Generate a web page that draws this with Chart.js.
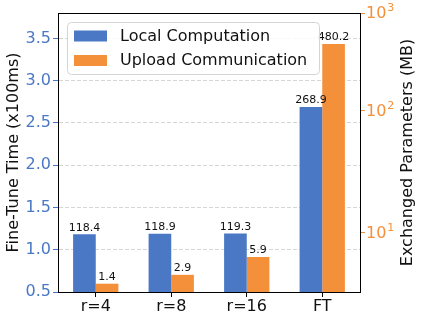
<!DOCTYPE html>
<html>
<head>
<meta charset="utf-8">
<script src="https://cdn.jsdelivr.net/npm/chart.js@4.4.0/dist/chart.umd.min.js"></script>
<style>
  html, body { margin: 0; padding: 0; background: #fff; }
</style>
</head>
<body>
<canvas id="myChart" width="421" height="321"></canvas>
<script>
// data
const groups = ["r=4", "r=8", "r=16", "FT"];
const seriesNames = ["Local Computation", "Upload Communication"];
const localTimeMs = [118.4, 118.9, 119.3, 268.9];
const uploadMB = [1.4, 2.9, 5.9, 480.2];
const timeTicks = [0.5, 1.0, 1.5, 2.0, 2.5, 3.0, 3.5];
const paramTicks = [10, 100, 1000];
const rightTitle = "Exchanged Parameters (MB)";

const BLUE = "#4a78c5";
const ORANGE = "#f5903a";
const FONT = "'DejaVu Sans', sans-serif";

// right axis of the figure: linear up to 10, then log, with uneven decades
class AnchoredLogScale extends Chart.Scale {
  determineDataLimits() {
    const a = this.options.anchors;
    this.min = a[0];
    this.max = a[a.length - 1];
  }
  buildTicks() {
    return paramTicks.map((v) => ({ value: v }));
  }
  getLabelForValue(v) {
    return String(v);
  }
  _frac(v) {
    const a = this.options.anchors;
    const f = this.options.fractions;
    if (v <= a[0]) return f[0];
    for (let i = 1; i < a.length; i++) {
      if (v <= a[i] || i === a.length - 1) {
        const t = a[i - 1] <= 0
          ? (v - a[i - 1]) / (a[i] - a[i - 1])
          : Math.log(v / a[i - 1]) / Math.log(a[i] / a[i - 1]);
        return f[i - 1] + t * (f[i] - f[i - 1]);
      }
    }
    return 1;
  }
  getPixelForValue(v) {
    return this.getPixelForDecimal(this._frac(v));
  }
  getPixelForTick(i) {
    return this.getPixelForValue(this.ticks[i].value);
  }
  getValueForPixel(p) {
    const d = 1 - (p - this.top) / (this.bottom - this.top);
    const a = this.options.anchors;
    const f = this.options.fractions;
    for (let i = 1; i < a.length; i++) {
      if (d <= f[i] || i === a.length - 1) {
        const t = (d - f[i - 1]) / (f[i] - f[i - 1]);
        return a[i - 1] <= 0 ? a[i - 1] + t * (a[i] - a[i - 1]) : a[i - 1] * Math.pow(a[i] / a[i - 1], t);
      }
    }
    return a[a.length - 1];
  }
}
AnchoredLogScale.id = "anchoredLog";
AnchoredLogScale.defaults = {};
Chart.register(AnchoredLogScale);

// bar value labels
const barLabels = {
  id: "barLabels",
  afterDatasetsDraw(chart) {
    const { ctx } = chart;
    ctx.save();
    ctx.font = "11px " + FONT;
    ctx.fillStyle = "#111";
    ctx.textAlign = "center";
    ctx.textBaseline = "bottom";
    chart.data.datasets.forEach((ds, i) => {
      chart.getDatasetMeta(i).data.forEach((bar, j) => {
        ctx.fillText(ds.shownValues[j].toFixed(1), bar.x, bar.y - 1);
      });
    });
    ctx.restore();
  },
};

// top spine + framed legend inside the plot
const frameAndLegend = {
  id: "frameAndLegend",
  afterDatasetsDraw(chart) {
    const { ctx, chartArea } = chart;
    ctx.save();
    ctx.strokeStyle = "#000";
    ctx.lineWidth = 1;
    ctx.beginPath();
    ctx.moveTo(chartArea.left, chartArea.top + 0.5);
    ctx.lineTo(chartArea.right, chartArea.top + 0.5);
    ctx.stroke();

    const x = chartArea.left + 9, y = chartArea.top + 9, w = 252, h = 52;
    ctx.beginPath();
    if (ctx.roundRect) ctx.roundRect(x + 0.5, y + 0.5, w, h, 4);
    else ctx.rect(x + 0.5, y + 0.5, w, h);
    ctx.fillStyle = "rgba(255,255,255,0.85)";
    ctx.fill();
    ctx.strokeStyle = "#d4d4d4";
    ctx.stroke();

    ctx.font = "16px " + FONT;
    ctx.textBaseline = "middle";
    chart.data.datasets.forEach((ds, i) => {
      const cy = y + 13.5 + i * 24.5;
      ctx.fillStyle = ds.backgroundColor;
      ctx.fillRect(x + 7, cy - 5, 33, 11);
      ctx.fillStyle = "#111";
      ctx.fillText(ds.label, x + 53, cy + 1);
    });
    ctx.restore();
  },
};

// right axis: 10^n tick labels and a bottom-to-top title
const rightAxisText = {
  id: "rightAxisText",
  afterDraw(chart) {
    const { ctx, chartArea } = chart;
    const s = chart.scales.y1;
    ctx.save();
    ctx.textAlign = "left";
    ctx.textBaseline = "middle";
    s.ticks.forEach((t) => {
      const py = s.getPixelForValue(t.value);
      const px = s.left + 6;
      ctx.fillStyle = ORANGE;
      ctx.font = "16px " + FONT;
      ctx.fillText("10", px, py + 1);
      const w = ctx.measureText("10").width;
      ctx.font = "11px " + FONT;
      ctx.fillText(String(Math.round(Math.log10(t.value))), px + w + 1, py - 5);
    });
    ctx.translate(407.5, (chartArea.top + chartArea.bottom) / 2);
    ctx.rotate(-Math.PI / 2);
    ctx.textAlign = "center";
    ctx.fillStyle = "#111";
    ctx.font = "16px " + FONT;
    ctx.fillText(rightTitle, 0, 0);
    ctx.restore();
  },
};

const ctx = document.getElementById("myChart").getContext("2d");
new Chart(ctx, {
  type: "bar",
  data: {
    labels: groups,
    datasets: [
      {
        label: seriesNames[0],
        data: localTimeMs.map((v) => v / 100),
        shownValues: localTimeMs,
        backgroundColor: BLUE,
        yAxisID: "y",
        categoryPercentage: 0.6,
        barPercentage: 1.0,
      },
      {
        label: seriesNames[1],
        data: uploadMB,
        shownValues: uploadMB,
        backgroundColor: ORANGE,
        yAxisID: "y1",
        categoryPercentage: 0.6,
        barPercentage: 1.0,
      },
    ],
  },
  options: {
    responsive: false,
    animation: false,
    devicePixelRatio: 1,
    layout: { padding: { top: 13, left: 0, right: 0, bottom: 0 } },
    plugins: {
      legend: { display: false },
      tooltip: { enabled: false },
    },
    scales: {
      x: {
        type: "category",
        offset: true,
        grid: {
          offset: false,
          drawOnChartArea: false,
          drawTicks: true,
          tickLength: 5,
          tickColor: "#000",
        },
        border: { color: "#000", width: 1 },
        ticks: { color: "#111", font: { family: FONT, size: 16 }, padding: 0 },
        afterFit: (s) => { s.height = 29; },
      },
      y: {
        type: "linear",
        position: "left",
        min: 0.5,
        max: 3.8,
        afterBuildTicks: (s) => { s.ticks = timeTicks.map((v) => ({ value: v })); },
        grid: {
          color: "#d6d6d6",
          tickColor: BLUE,
          tickLength: 5,
          tickBorderDash: [],
        },
        border: { color: "#000", width: 1, dash: [4, 2] },
        ticks: {
          color: BLUE,
          font: { family: FONT, size: 16 },
          padding: 2,
          callback: (v) => Number(v).toFixed(1),
        },
        title: {
          display: true,
          text: "Fine-Tune Time (x100ms)",
          color: "#111",
          font: { family: FONT, size: 16 },
          padding: { top: 4, bottom: 0 },
        },
        afterFit: (s) => { s.width = 58; },
      },
      y1: {
        type: "anchoredLog",
        position: "right",
        anchors: [0, 10, 100, 1000],
        fractions: [0, 0.2125, 0.65, 1],
        grid: {
          drawOnChartArea: false,
          tickColor: ORANGE,
          tickLength: 5,
        },
        border: { color: "#000", width: 1 },
        ticks: { display: false },
        afterFit: (s) => { s.width = 61; },
      },
    },
  },
  plugins: [barLabels, frameAndLegend, rightAxisText],
});
</script>
</body>
</html>
